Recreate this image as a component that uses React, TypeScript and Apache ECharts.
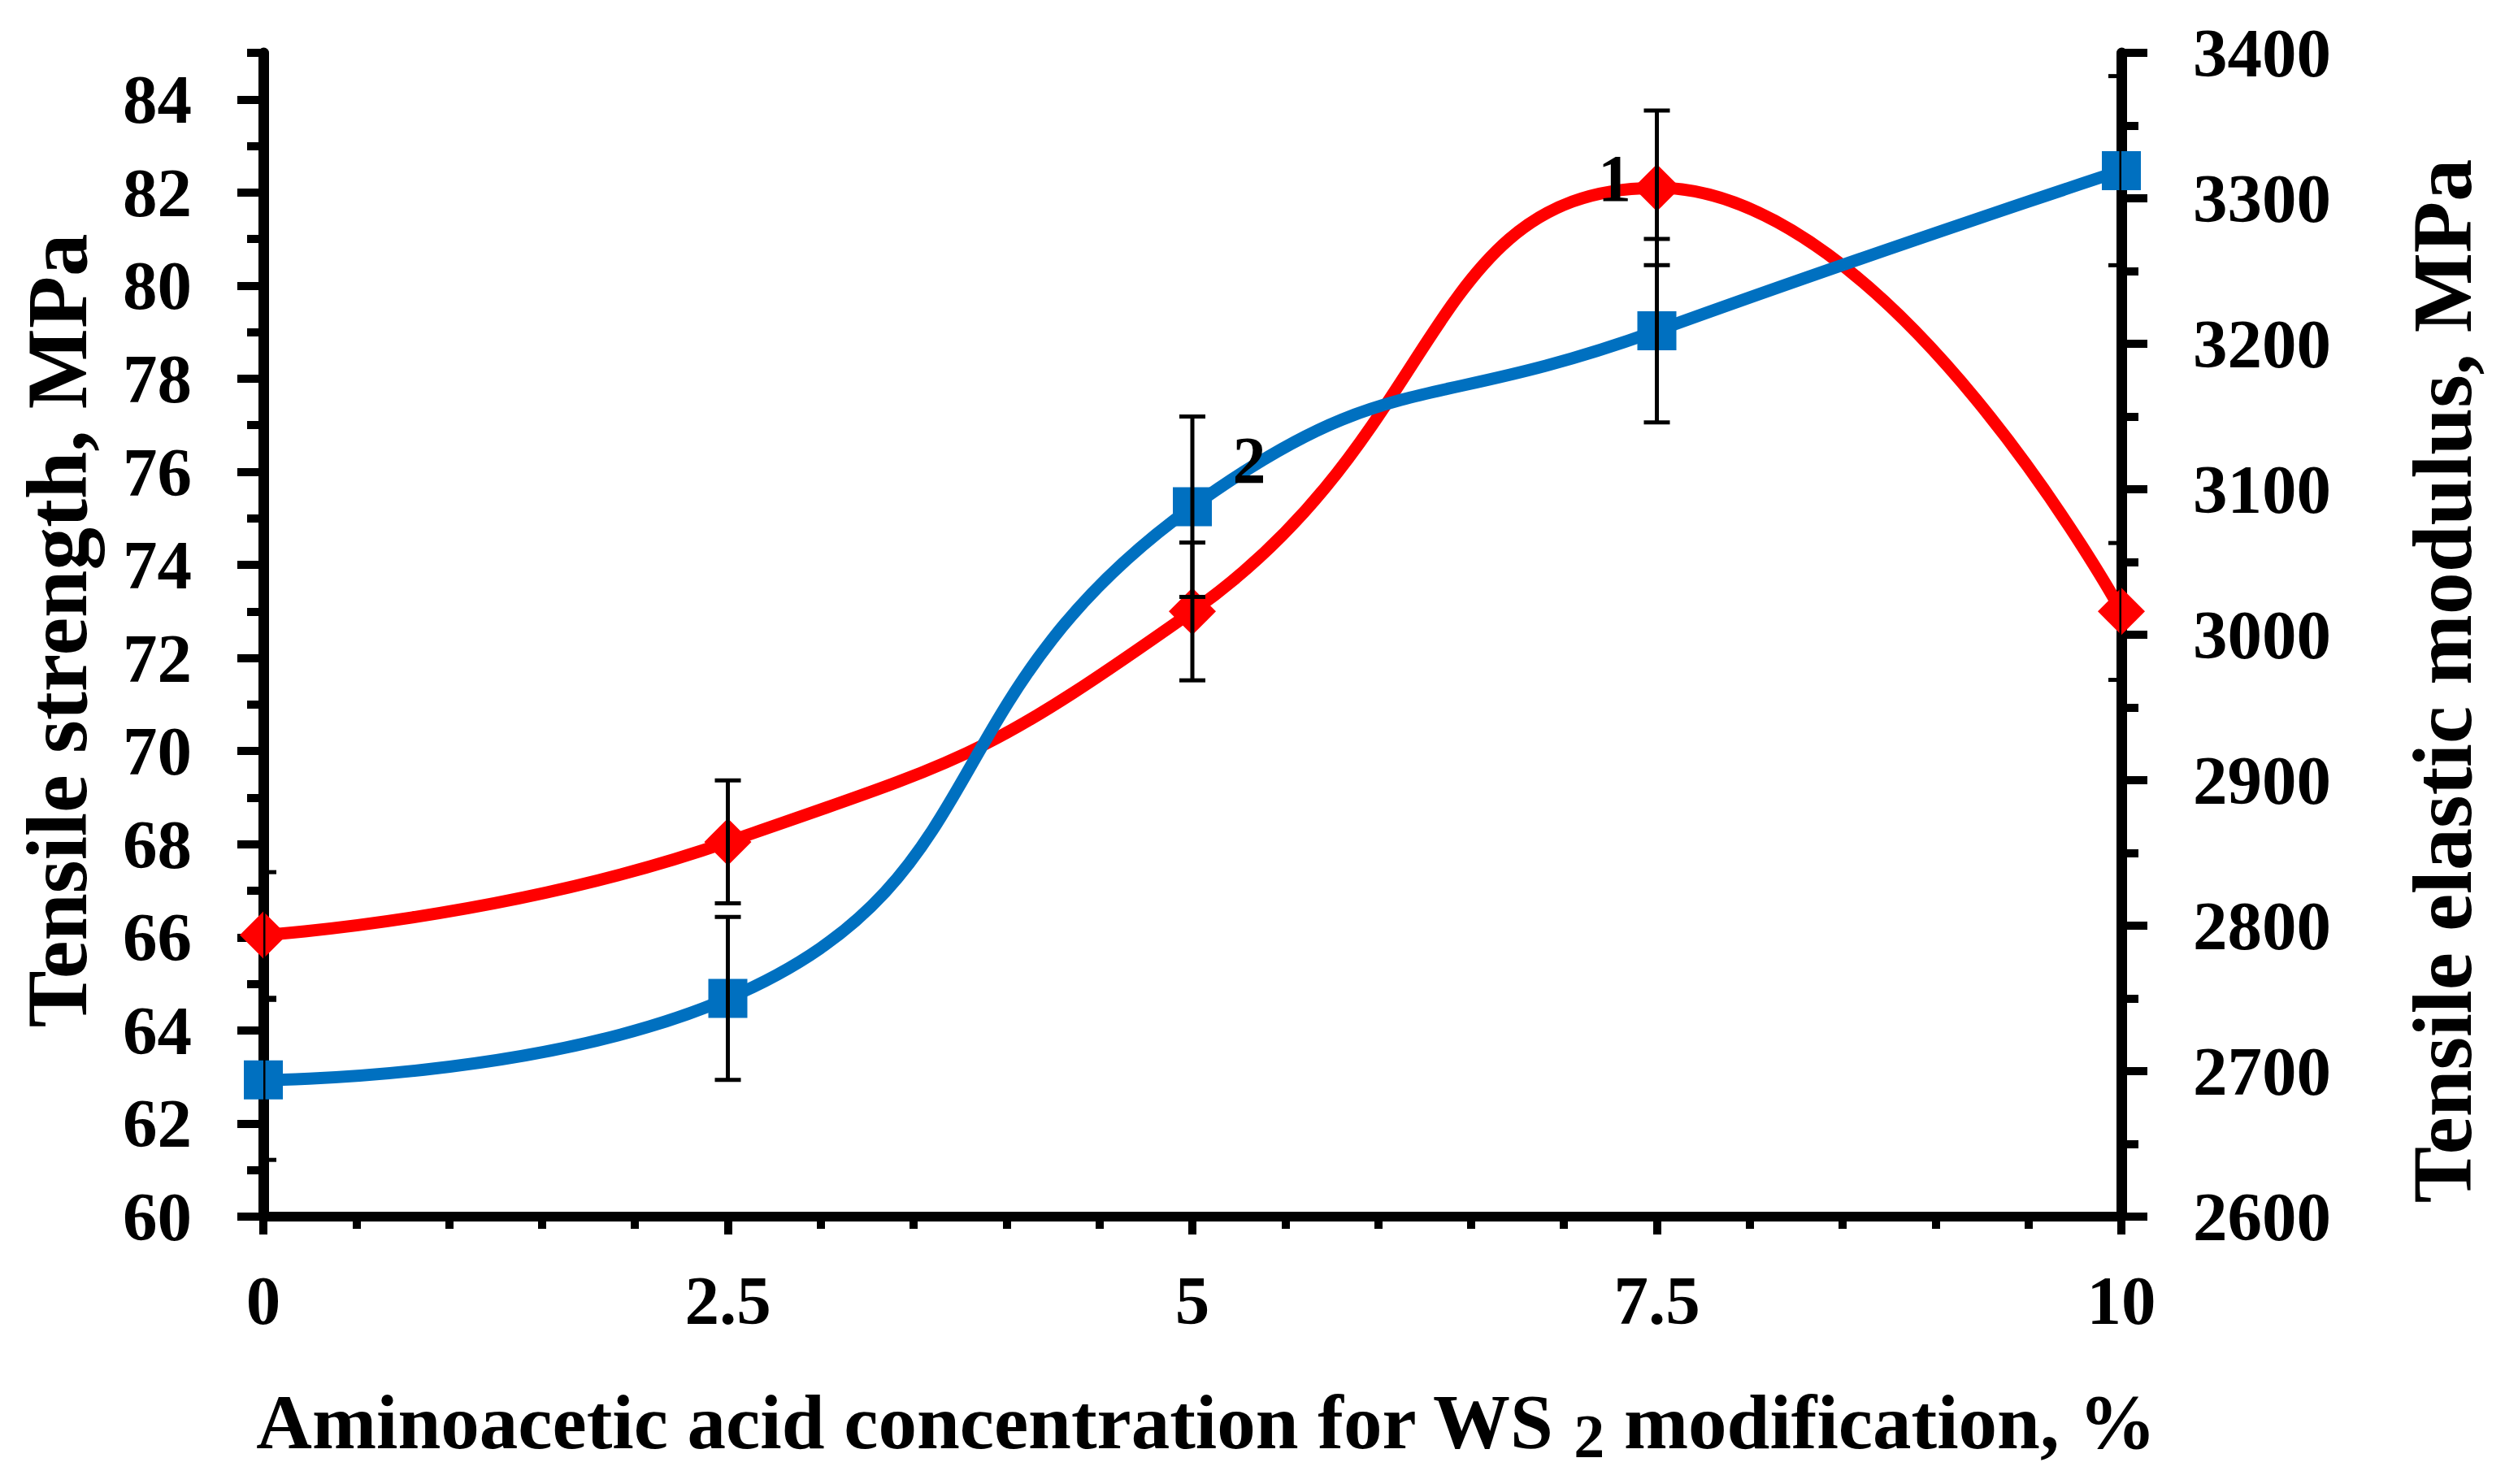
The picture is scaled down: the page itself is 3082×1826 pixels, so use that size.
import React, { useEffect, useRef } from "react";
import * as echarts from "echarts";

const CONCENTRATION = [0, 2.5, 5, 7.5, 10];
const STRENGTH = [66.05, 68.05, 73.0, 82.1, 73.0];
const STRENGTH_ERR = [1.35, 1.32, 1.48, 1.66, 1.47];
const MODULUS = [2694, 2750, 3088, 3209, 3319];
const MODULUS_ERR = [55, 56, 62, 63, 65];
const LEFT_MAJOR_TICKS = [60, 62, 64, 66, 68, 70, 72, 74, 76, 78, 80, 82, 84];
const LEFT_MINOR_TICKS = [61, 63, 65, 67, 69, 71, 73, 75, 77, 79, 81, 83, 85];
const X_TITLE_PARTS = ["Aminoacetic acid concentration for WS ", "2", " modification, %"];
const LEFT_TITLE = "Tensile strength, MPa";
const RIGHT_TITLE = "Tensile elastic modulus, MPa";
const CURVE_LABELS = ["1", "2"];

const FONT = "Liberation Serif";
const RED = "#FF0000";
const BLUE = "#0070C0";

export default function App() {
  const ref = useRef<HTMLDivElement>(null);
  useEffect(() => {
    if (!ref.current) return;
    const chart = echarts.init(ref.current, null, { renderer: "svg" });
    const tickLabel = { fontFamily: FONT, fontWeight: "bold", fontSize: 85, color: "#000" };
    const errRender = (params: any, api: any) => {
      const x = api.value(0);
      const y = api.value(1);
      const e = api.value(2);
      const top = api.coord([x, y + e]);
      const bot = api.coord([x, y - e]);
      const hw = 16;
      const st = { stroke: "#000", lineWidth: 5 };
      return {
        type: "group",
        children: [
          { type: "line", shape: { x1: top[0], y1: top[1], x2: bot[0], y2: bot[1] }, style: st },
          { type: "line", shape: { x1: top[0] - hw, y1: top[1], x2: top[0] + hw, y2: top[1] }, style: st },
          { type: "line", shape: { x1: bot[0] - hw, y1: bot[1], x2: bot[0] + hw, y2: bot[1] }, style: st },
        ],
      };
    };
    const labelStyle = { fontFamily: FONT, fontWeight: "bold", fontSize: 82, color: "#000" };
    const redData = CONCENTRATION.map((x, i) =>
      i === 3
        ? { value: [x, STRENGTH[i]], label: { show: true, formatter: CURVE_LABELS[0], position: "inside", offset: [-52, -12], ...labelStyle } }
        : [x, STRENGTH[i]]
    );
    const blueData = CONCENTRATION.map((x, i) =>
      i === 2
        ? { value: [x, MODULUS[i]], label: { show: true, formatter: CURVE_LABELS[1], position: "inside", offset: [70, -57], ...labelStyle } }
        : [x, MODULUS[i]]
    );
    const option: any = {
      animation: false,
      backgroundColor: "#fff",
      grid: { left: 324, right: 472, top: 65, bottom: 329, containLabel: false },
      xAxis: {
        type: "value",
        min: 0,
        max: 10,
        interval: 2.5,
        axisLine: { onZero: false, lineStyle: { color: "#000", width: 12 } },
        axisTick: { show: true, inside: false, length: 22, lineStyle: { color: "#000", width: 10 } },
        minorTick: { show: true, splitNumber: 5, length: 15, lineStyle: { color: "#000", width: 10 } },
        axisLabel: { ...tickLabel, margin: 60 },
        splitLine: { show: false },
        minorSplitLine: { show: false },
      },
      yAxis: [
        {
          type: "value",
          position: "left",
          min: 60,
          max: 85,
          interval: 1,
          axisLine: { show: true, onZero: false, lineStyle: { color: "#000", width: 13 } },
          axisTick: { show: true, length: 32, customValues: LEFT_MAJOR_TICKS, lineStyle: { color: "#000", width: 10 } },
          axisLabel: { ...tickLabel, margin: 88, customValues: LEFT_MAJOR_TICKS },
          splitLine: { show: false },
        },
        {
          type: "value",
          position: "left",
          min: 60,
          max: 85,
          interval: 1,
          axisLine: { show: false },
          axisTick: { show: true, length: 20, customValues: LEFT_MINOR_TICKS, lineStyle: { color: "#000", width: 10 } },
          axisLabel: { show: false },
          splitLine: { show: false },
        },
        {
          type: "value",
          position: "right",
          min: 2600,
          max: 3400,
          interval: 100,
          axisLine: { show: true, onZero: false, lineStyle: { color: "#000", width: 13 } },
          axisTick: { show: true, length: 32, lineStyle: { color: "#000", width: 10 } },
          minorTick: { show: true, splitNumber: 2, length: 21, lineStyle: { color: "#000", width: 10 } },
          axisLabel: { ...tickLabel, margin: 88, formatter: (v: number) => String(v) },
          splitLine: { show: false },
          minorSplitLine: { show: false },
        },
      ],
      graphic: [
        {
          type: "text",
          x: 70,
          y: 776,
          rotation: Math.PI / 2,
          style: { text: LEFT_TITLE, font: `bold 105px '${FONT}'`, fill: "#000", align: "center", verticalAlign: "middle" },
        },
        {
          type: "text",
          x: 3004,
          y: 838,
          rotation: Math.PI / 2,
          style: { text: RIGHT_TITLE, font: `bold 104px '${FONT}'`, fill: "#000", align: "center", verticalAlign: "middle" },
        },
        {
          type: "text",
          x: 1483,
          y: 1750,
          style: {
            text: `{m|${X_TITLE_PARTS[0]}}{s|${X_TITLE_PARTS[1]}}{m|${X_TITLE_PARTS[2]}}`,
            align: "center",
            verticalAlign: "middle",
            fill: "#000",
            rich: {
              m: { fontFamily: FONT, fontWeight: "bold", fontSize: 95, fill: "#000", verticalAlign: "middle" },
              s: { fontFamily: FONT, fontWeight: "bold", fontSize: 76, fill: "#000", verticalAlign: "middle", padding: [33, 0, 0, 0] },
            },
          },
        },
      ],
      series: [
        {
          type: "line",
          name: "Tensile strength",
          xAxisIndex: 0,
          yAxisIndex: 0,
          data: redData,
          smooth: 0.5,
          clip: false,
          symbol: "diamond",
          symbolSize: 58,
          lineStyle: { color: RED, width: 15 },
          itemStyle: { color: RED },
          z: 3,
        },
        {
          type: "line",
          name: "Tensile elastic modulus",
          xAxisIndex: 0,
          yAxisIndex: 2,
          data: blueData,
          smooth: 0.5,
          clip: false,
          symbol: "rect",
          symbolSize: 48,
          lineStyle: { color: BLUE, width: 15 },
          itemStyle: { color: BLUE },
          z: 3,
        },
        {
          type: "custom",
          xAxisIndex: 0,
          yAxisIndex: 0,
          clip: true,
          data: CONCENTRATION.map((x, i) => [x, STRENGTH[i], STRENGTH_ERR[i]]),
          encode: { x: 0, y: 1 },
          renderItem: errRender,
          z: 5,
        },
        {
          type: "custom",
          xAxisIndex: 0,
          yAxisIndex: 2,
          clip: true,
          data: CONCENTRATION.map((x, i) => [x, MODULUS[i], MODULUS_ERR[i]]),
          encode: { x: 0, y: 1 },
          renderItem: errRender,
          z: 5,
        },
      ],
    };
    chart.setOption(option);
    return () => chart.dispose();
  }, []);
  return <div ref={ref} style={{ position: "fixed", left: 0, top: 0, width: 3082, height: 1826 }} />;
}
